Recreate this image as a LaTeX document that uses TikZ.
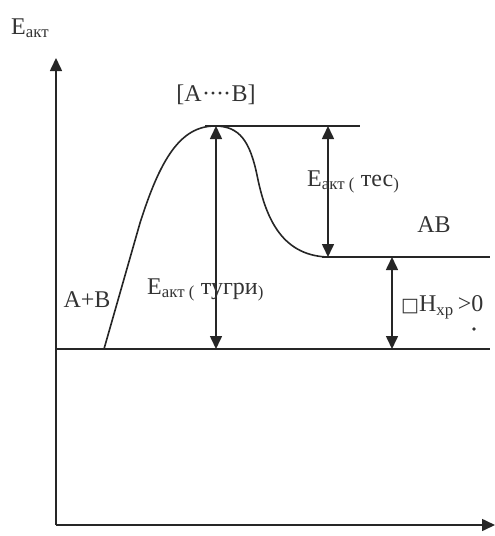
\documentclass[tikz,border=0pt]{standalone}
\usepackage{fontspec}
\setmainfont{Liberation Serif}
\newfontfamily\symfont{DejaVu Sans}
\usetikzlibrary{arrows.meta}
\begin{document}
\begin{tikzpicture}[x=1pt,y=-1pt,
  ln/.style={line width=1.6pt,black!85},
  tip/.style={-{Triangle[length=13pt,width=12pt]}},
  dbl/.style={{Triangle[length=13pt,width=12pt]}-{Triangle[length=13pt,width=12pt]},line width=1.6pt,black!85},
  lbl/.style={inner sep=0pt,font=\fontsize{24}{26}\selectfont,text=black!80}]
\useasboundingbox (0,0) rectangle (495,536);
% axes
\coordinate (O) at (56,525);
\coordinate (Ytop) at (56,58);
\coordinate (Xend) at (495,525);
\draw[ln,tip] (O) -- (Ytop);
\draw[ln,tip] (O) -- (Xend);
% levels
\coordinate (R0) at (56,349);
\coordinate (R1) at (490,349);
\coordinate (T0) at (205,126);
\coordinate (T1) at (360,126);
\coordinate (P0) at (322,257);
\coordinate (P1) at (490,257);
\draw[ln] (R0) -- (R1);
\draw[ln] (T0) -- (T1);
\draw[ln] (P0) -- (P1);
% reaction curve
\draw[ln] (56,349) -- (104,349) -- (140,223)
  .. controls (160,160) and (180,126) .. (215,126)
  .. controls (240,126) and (250,142) .. (257,175)
  .. controls (265,215) and (280,255) .. (327,257);
% double arrows
\coordinate (A1t) at (216,126);
\coordinate (A1b) at (216,349);
\coordinate (A2t) at (328,126);
\coordinate (A2b) at (328,257);
\coordinate (A3t) at (392,257);
\coordinate (A3b) at (392,349);
\draw[dbl] (A1t) -- (A1b);
\draw[dbl] (A2t) -- (A2b);
\draw[dbl] (A3t) -- (A3b);
% labels
\node[lbl,anchor=base west] (ylab) at (11,34) {E\textsubscript{акт}};
\node[lbl] (ts) at (216,95) {[A{\kern0.5pt}·{\kern-1pt}·{\kern-1pt}·{\kern-1pt}·{\kern0.5pt}B]};
\node[lbl,anchor=west] (eback) at (307,182) {E\textsubscript{акт (} тес\textsubscript{)}};
\node[lbl] (ab) at (434,225) {AB};
\node[lbl] (apb) at (87,300) {A+B};
\node[lbl,anchor=west] (efwd) at (147,290) {E\textsubscript{акт (} тугри\textsubscript{)}};
\node[lbl,anchor=west] (dh) at (401,307) {{\symfont\fontsize{19}{20}\selectfont □}H\textsubscript{хр}\,>0};
\fill[black!80] (474,329) circle (1.8pt) coordinate (dot);
\end{tikzpicture}
\end{document}
